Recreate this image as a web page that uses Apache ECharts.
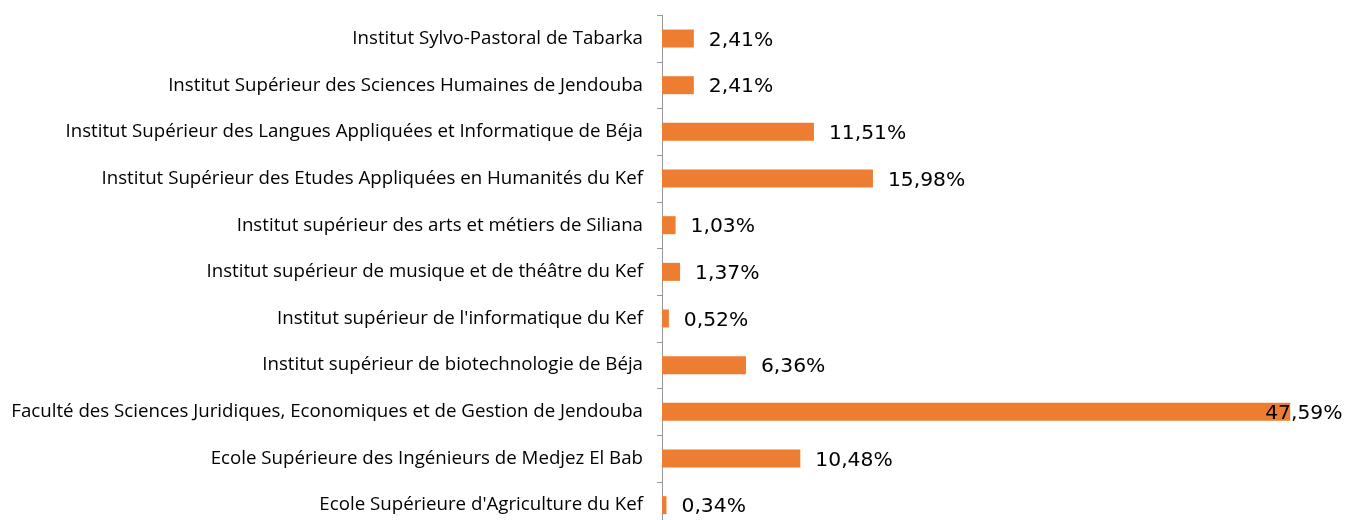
<!DOCTYPE html>
<html><head><meta charset="utf-8">
<script src="https://cdn.jsdelivr.net/npm/echarts@6/dist/echarts.min.js"></script>
<style>html,body{margin:0;padding:0;background:#fff;overflow:hidden}#c{width:1349px;height:545px}</style>
</head><body><div id="c"></div>
<script>
const categories = [
  "Institut Sylvo-Pastoral de Tabarka",
  "Institut Supérieur des Sciences Humaines de Jendouba",
  "Institut Supérieur des Langues Appliquées et Informatique de Béja",
  "Institut Supérieur des Etudes Appliquées en Humanités du Kef",
  "Institut supérieur des arts et métiers de Siliana",
  "Institut supérieur de musique et de théâtre du Kef",
  "Institut supérieur de l'informatique du Kef",
  "Institut supérieur de biotechnologie de Béja",
  "Faculté des Sciences Juridiques, Economiques et de Gestion de Jendouba",
  "Ecole Supérieure des Ingénieurs de Medjez El Bab",
  "Ecole Supérieure d'Agriculture du Kef"
];
const values = [2.41, 2.41, 11.51, 15.98, 1.03, 1.37, 0.52, 6.36, 47.59, 10.48, 0.34];

const chart = echarts.init(document.getElementById('c'));
chart.setOption({
  animation: false,
  grid: { left: 662, top: 15.2, width: 660, height: 513.3, containLabel: false },
  xAxis: { type: 'value', min: 0, max: 50, show: false },
  yAxis: {
    type: 'category', data: categories, inverse: true,
    axisLine: { show: true, lineStyle: { color: '#999999', width: 1 } },
    axisTick: { show: true, length: 5, lineStyle: { color: '#999999' } },
    axisLabel: { color: '#000', fontFamily: 'Open Sans', fontSize: 18.7, margin: 19 }
  },
  series: [{
    type: 'bar',
    data: values.map((v, i) => i === 8
      ? { value: v, label: { offset: [-40, 2] } }
      : v),
    barWidth: 18,
    itemStyle: { color: '#ED7D31' },
    label: {
      show: true, position: 'right', distance: 15, offset: [0, 2],
      color: '#000', fontFamily: 'DejaVu Sans', fontSize: 20.3,
      formatter: p => p.value.toFixed(2).replace('.', ',') + '%'
    }
  }]
});
</script></body></html>
